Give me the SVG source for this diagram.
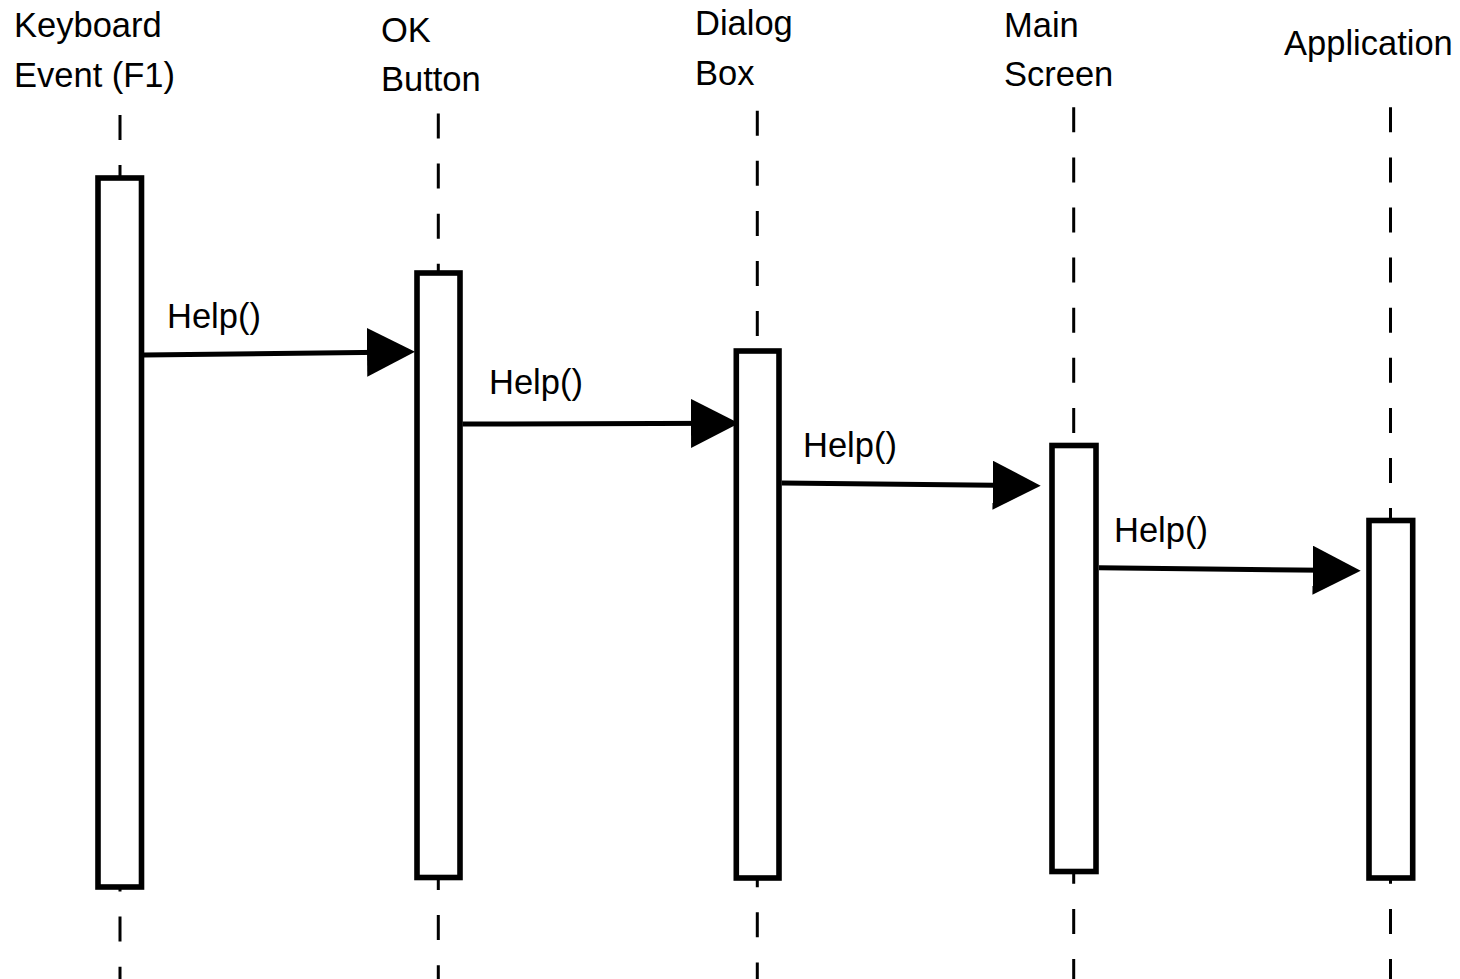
<svg xmlns="http://www.w3.org/2000/svg" width="1460" height="979" viewBox="0 0 1460 979">
  <style>
    .label { font-family: "Liberation Sans", Arial, sans-serif; font-size: 34.5px; fill: #000; }
    .lifeline { stroke: #000; stroke-width: 3; stroke-dasharray: 25 25.1; fill: none; }
    .activation { fill: #fff; stroke: #000; stroke-width: 5.6; }
    .msg { stroke: #000; stroke-width: 5; fill: none; marker-end: url(#arrowhead); }
  </style>
  <defs>
    <!-- filled triangular head; tip sits 10px past the end of the message line -->
    <marker id="arrowhead" markerUnits="userSpaceOnUse" viewBox="0 0 48 49" refX="38" refY="24.5" markerWidth="48" markerHeight="49" orient="auto">
      <path d="M0,0 L48,24.5 L0,49 Z" fill="#000"/>
    </marker>
  </defs>
  <rect width="1460" height="979" fill="#fff"/>

  <!-- participants: name, dashed lifeline, activation bar -->
  <g id="keyboard-event">
    <text class="label" x="14" y="37">Keyboard</text>
    <text class="label" x="14" y="87">Event (F1)</text>
    <line class="lifeline" x1="120" y1="115" x2="120" y2="979"/>
    <rect class="activation" x="98" y="178" width="43.5" height="709"/>
  </g>

  <g id="ok-button">
    <text class="label" x="381" y="41.5">OK</text>
    <text class="label" x="381" y="91">Button</text>
    <line class="lifeline" x1="438.3" y1="113.5" x2="438.3" y2="979"/>
    <rect class="activation" x="417" y="273" width="43" height="604.5"/>
  </g>

  <g id="dialog-box">
    <text class="label" x="695" y="35">Dialog</text>
    <text class="label" x="695" y="85">Box</text>
    <line class="lifeline" x1="757.3" y1="110.7" x2="757.3" y2="979"/>
    <rect class="activation" x="736.3" y="351" width="42.7" height="527"/>
  </g>

  <g id="main-screen">
    <text class="label" x="1004" y="36.5">Main</text>
    <text class="label" x="1004" y="86">Screen</text>
    <line class="lifeline" x1="1073.7" y1="107.3" x2="1073.7" y2="979"/>
    <rect class="activation" x="1052" y="445.5" width="44" height="426"/>
  </g>

  <g id="application">
    <text class="label" x="1284" y="55">Application</text>
    <line class="lifeline" x1="1390.5" y1="107.3" x2="1390.5" y2="979"/>
    <rect class="activation" x="1369" y="520.5" width="43.7" height="357.5"/>
  </g>

  <!-- Help() messages passed along the chain -->
  <g id="messages">
    <path class="msg" d="M144,355 L405,351.9"/>
    <text class="label" x="167" y="328">Help()</text>

    <path class="msg" d="M462.5,424 L729,423.3"/>
    <text class="label" x="489" y="394">Help()</text>

    <path class="msg" d="M781.7,483 L1030.7,485.6"/>
    <text class="label" x="803" y="457">Help()</text>

    <path class="msg" d="M1099,567.7 L1350.7,570.6"/>
    <text class="label" x="1114" y="542">Help()</text>
  </g>
</svg>
